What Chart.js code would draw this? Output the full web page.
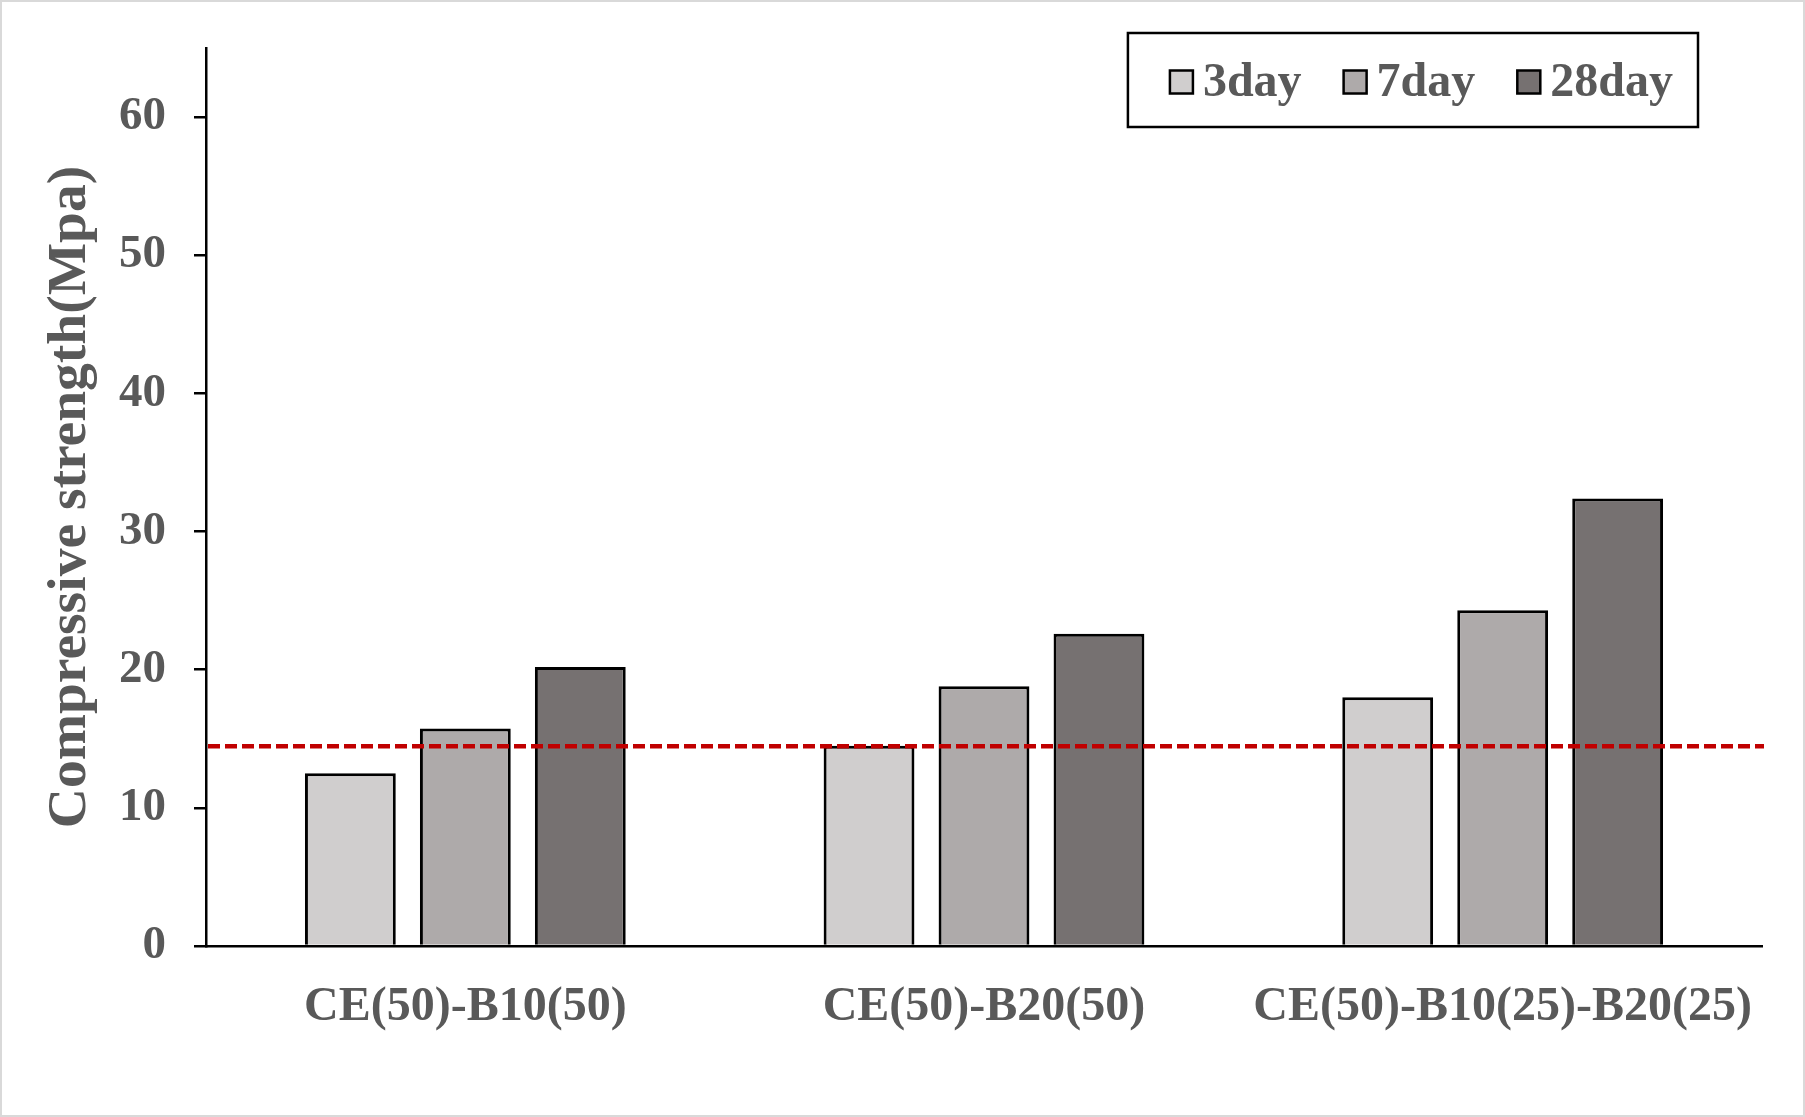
<!DOCTYPE html>
<html>
<head>
<meta charset="utf-8">
<title>Compressive strength</title>
<script src="https://cdn.jsdelivr.net/npm/chart.js@4.4.1/dist/chart.umd.min.js"></script>
<style>
  html, body { margin: 0; padding: 0; background: #fff; }
  canvas { display: block; }
</style>
</head>
<body>
<canvas id="myChart" width="1805" height="1117"></canvas>
<script>
/* global Chart */

// data
const categories = ["CE(50)-B10(50)", "CE(50)-B20(50)", "CE(50)-B10(25)-B20(25)"];
const seriesNames = ["3day", "7day", "28day"];
const day3 = [12.5, 14.5, 18.0];
const day7 = [15.75, 18.8, 24.3];
const day28 = [20.2, 22.6, 32.4];
const refValue = 14.45; // red dashed line
const yMin = 0;
const yMax = 65;
const yStep = 10;

const seriesColors = ["#D0CECE", "#AEAAAA", "#767171"];
const textGray = "#595959";
const serif = "'Liberation Serif', 'Times New Roman', serif";

// light grey frame round the whole figure
const frame = {
  id: "frame",
  beforeDraw(chart) {
    const ctx = chart.ctx;
    ctx.save();
    ctx.fillStyle = "#fff";
    ctx.fillRect(0, 0, chart.width, chart.height);
    ctx.strokeStyle = "#D9D9D9";
    ctx.lineWidth = 2;
    ctx.strokeRect(1, 1, chart.width - 2, chart.height - 2);
    ctx.restore();
  },
};

// horizontal red dashed reference line
const refLine = {
  id: "refLine",
  afterDatasetsDraw(chart) {
    const ctx = chart.ctx;
    const area = chart.chartArea;
    const y = chart.scales.y.getPixelForValue(refValue);
    ctx.save();
    ctx.strokeStyle = "#C00000";
    ctx.lineWidth = 4.5;
    ctx.setLineDash([12, 5]);
    ctx.beginPath();
    ctx.moveTo(area.left + 2, y);
    ctx.lineTo(area.right + 2, y);
    ctx.stroke();
    ctx.restore();
  },
};

// legend in a black box, top right inside the plot
const boxLegend = {
  id: "boxLegend",
  afterDraw(chart) {
    const ctx = chart.ctx;
    const area = chart.chartArea;
    const sq = 23, gapText = 10, gapItem = 42, padL = 42, padR = 25, boxH = 94;
    ctx.save();
    ctx.font = "bold 48px " + serif;
    const widths = chart.data.datasets.map((ds) => ctx.measureText(ds.label).width);
    let total = padL + padR + gapItem * (widths.length - 1);
    widths.forEach((w) => (total += sq + gapText + w));
    const right = area.right - 64;
    const left = right - total;
    const top = area.top - 15;

    ctx.fillStyle = "#fff";
    ctx.fillRect(left, top, total, boxH);
    ctx.strokeStyle = "#000";
    ctx.lineWidth = 2.5;
    ctx.strokeRect(left, top, total, boxH);

    const cy = top + 49;
    let x = left + padL;
    ctx.textBaseline = "middle";
    ctx.textAlign = "left";
    chart.data.datasets.forEach((ds, i) => {
      ctx.fillStyle = ds.backgroundColor;
      ctx.fillRect(x, cy - sq / 2, sq, sq);
      ctx.strokeStyle = "#000";
      ctx.lineWidth = 2.5;
      ctx.strokeRect(x, cy - sq / 2, sq, sq);
      x += sq + gapText;
      ctx.fillStyle = textGray;
      ctx.fillText(ds.label, x, cy + 2);
      x += widths[i] + gapItem;
    });
    ctx.restore();
  },
};

const allSeries = [day3, day7, day28];

const ctx = document.getElementById("myChart");
const myChart = new Chart(ctx, {
  type: "bar",
  data: {
    labels: categories,
    datasets: allSeries.map((vals, i) => ({
      label: seriesNames[i],
      data: vals,
      backgroundColor: seriesColors[i],
      borderColor: "#000",
      borderWidth: 3,
      categoryPercentage: 0.665,
      barPercentage: 0.79,
    })),
  },
  plugins: [frame, refLine, boxLegend],
  options: {
    responsive: false,
    animation: false,
    devicePixelRatio: 1,
    layout: {
      padding: { left: 37, top: 48, right: 43, bottom: 0 },
    },
    plugins: {
      legend: { display: false },
      tooltip: { enabled: false },
    },
    scales: {
      x: {
        grid: { display: false, drawTicks: false },
        border: { display: true, color: "#000", width: 2.5 },
        ticks: {
          color: textGray,
          font: { family: serif, size: 48, weight: "bold" },
          padding: 33,
          maxRotation: 0,
          autoSkip: false,
        },
        afterFit(scale) {
          scale.height = 171;
        },
      },
      y: {
        min: yMin,
        max: yMax,
        grid: {
          display: true,
          drawOnChartArea: false,
          drawTicks: true,
          tickLength: 12,
          color: "#000",
          lineWidth: 2.5,
        },
        border: { display: true, color: "#000", width: 2.5 },
        ticks: {
          stepSize: yStep,
          includeBounds: false,
          color: textGray,
          font: { family: serif, size: 47, weight: "bold" },
          padding: 28,
        },
        title: {
          display: true,
          text: "Compressive strength(Mpa)",
          color: textGray,
          font: { family: serif, size: 55.5, weight: "bold" },
          padding: 0,
        },
        afterFit(scale) {
          scale.width = 169;
          // let the layout padding alone decide the plot top
          scale.paddingTop = 0;
          scale.paddingBottom = 0;
        },
      },
    },
  },
});
</script>
</body>
</html>
